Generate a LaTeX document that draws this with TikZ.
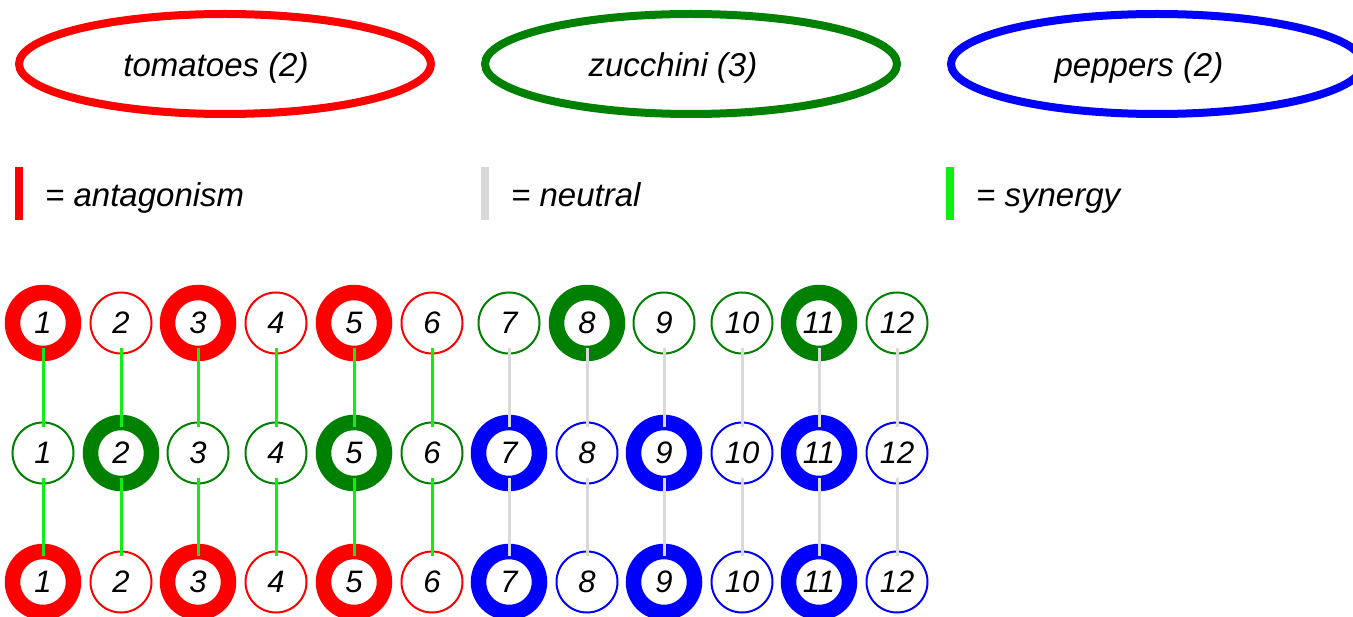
\documentclass[tikz,border=0pt]{standalone}
\usepackage{fontspec}
\setmainfont{Liberation Sans}
\usetikzlibrary{shapes.geometric}
\definecolor{cred}{HTML}{FF0000}
\definecolor{cgreen}{HTML}{008000}
\definecolor{cblue}{HTML}{0000FF}
\definecolor{clime}{HTML}{11EE11}
\definecolor{cgrey}{HTML}{D9D9D9}
\tikzset{
  x=1pt, y=-1pt,
  veg/.style={ellipse, draw=#1, line width=8pt, minimum width=412pt, minimum height=100pt, inner sep=0pt},
  veglabel/.style={anchor=base, inner sep=0pt, font=\fontsize{33}{40}\selectfont\itshape},
  legbar/.style={fill=#1, draw=none, minimum width=8pt, minimum height=53pt, inner sep=0pt},
  legtext/.style={anchor=base west, inner sep=0pt, font=\fontsize{33}{40}\selectfont\itshape},
  num/.style={circle, draw=#1, fill=white, line width=2pt, minimum size=61pt, inner sep=0pt,
    font=\fontsize{31}{36}\selectfont\itshape},
  numthick/.style={num=#1, line width=15.5pt},
  syn/.style={draw=clime, line width=3pt, shorten <=25pt, shorten >=26pt},
  neu/.style={draw=cgrey, line width=3pt, shorten <=25pt, shorten >=26pt},
}
\begin{document}
\begin{tikzpicture}
\useasboundingbox (0,0) rectangle (1353,617);
% vegetables
\node[veg=cred] (tom) at (225,64) {};
\node[veglabel] (tomL) at (216,77) {tomatoes (2)};
\node[veg=cgreen] (zuc) at (691,64) {};
\node[veglabel] (zucL) at (673,77) {zucchini (3)};
\node[veg=cblue] (pep) at (1157,64) {};
\node[veglabel] (pepL) at (1139,77) {peppers (2)};
% legend
\node[legbar=cred] (barA) at (19,193.5) {};
\node[legtext] (txtA) at (45,206.5) {= antagonism};
\node[legbar=cgrey] (barN) at (485,193.5) {};
\node[legtext] (txtN) at (511,206.5) {= neutral};
\node[legbar=clime] (barS) at (950,193.5) {};
\node[legtext] (txtS) at (976,206.5) {= synergy};
% rows
\foreach \i/\x/\st/\c in {1/43/numthick/cred, 2/121/num/cred, 3/198/numthick/cred, 4/276/num/cred,
  5/354/numthick/cred, 6/432/num/cred, 7/509/num/cgreen, 8/587/numthick/cgreen, 9/664/num/cgreen,
  10/742/num/cgreen, 11/819/numthick/cgreen, 12/897/num/cgreen}
  \node[\st=\c] (t\i) at (\x,323) {\i};
\foreach \i/\x/\st/\c in {1/43/num/cgreen, 2/121/numthick/cgreen, 3/198/num/cgreen, 4/276/num/cgreen,
  5/354/numthick/cgreen, 6/432/num/cgreen, 7/509/numthick/cblue, 8/587/num/cblue, 9/664/numthick/cblue,
  10/742/num/cblue, 11/819/numthick/cblue, 12/897/num/cblue}
  \node[\st=\c] (m\i) at (\x,453) {\i};
\foreach \i/\x/\st/\c in {1/43/numthick/cred, 2/121/num/cred, 3/198/numthick/cred, 4/276/num/cred,
  5/354/numthick/cred, 6/432/num/cred, 7/509/numthick/cblue, 8/587/num/cblue, 9/664/numthick/cblue,
  10/742/num/cblue, 11/819/numthick/cblue, 12/897/num/cblue}
  \node[\st=\c] (b\i) at (\x,582) {\i};
% connectors
\foreach \i in {1,...,6} {
  \draw[syn] (t\i.center) -- (m\i.center);
  \draw[syn] (m\i.center) -- (b\i.center);
}
\foreach \i in {7,...,12} {
  \draw[neu] (t\i.center) -- (m\i.center);
  \draw[neu] (m\i.center) -- (b\i.center);
}
\end{tikzpicture}
\end{document}
